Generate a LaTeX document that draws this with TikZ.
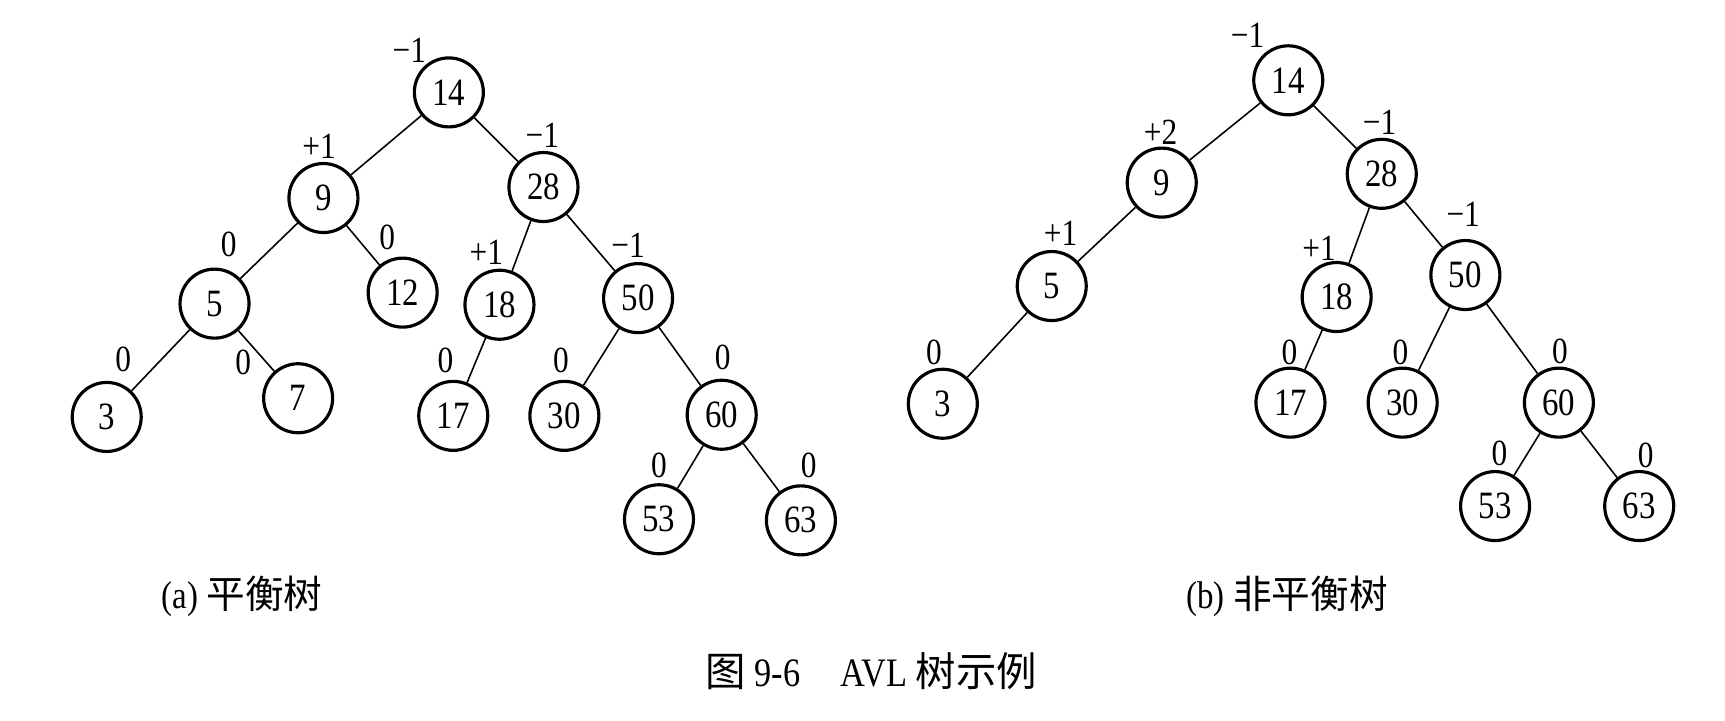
\documentclass[tikz,border=0pt]{standalone}
\usepackage{fontspec}
\setmainfont{Liberation Serif}[FakeStretch=0.85]
\newfontfamily\cjk{Noto Sans CJK SC}
\tikzset{
  key/.style={circle,draw,line width=0.9pt,minimum size=0.69cm,inner sep=0pt,font=\fontsize{11}{11}\selectfont},
  bal/.style={inner sep=0pt,font=\fontsize{10.5}{10.5}\selectfont},
  edge/.style={line width=0.45pt},
  subcap/.style={inner sep=0pt,font=\fontsize{11}{11}\selectfont}
}
\begin{document}
\begin{tikzpicture}[x=0.011cm,y=-0.011cm]
\useasboundingbox(0,0)rectangle(1568,655);
\node[key](a14)at(408,84){14};
\node[key](a9)at(294,180){9};
\node[key](a28)at(494,170){28};
\node[key](a5)at(195,276){5};
\node[key](a12)at(366,266){12};
\node[key](a18)at(454,277){18};
\node[key](a50)at(580,271){50};
\node[key](a3)at(97,379){3};
\node[key](a7)at(271,362){7};
\node[key](a17)at(412,378){17};
\node[key](a30)at(513,378){30};
\node[key](a60)at(656,377){60};
\node[key](a53)at(599,472){53};
\node[key](a63)at(728,473){63};
\draw[edge](a14)--(a9);\draw[edge](a14)--(a28);
\draw[edge](a9)--(a5);\draw[edge](a9)--(a12);
\draw[edge](a5)--(a3);\draw[edge](a5)--(a7);
\draw[edge](a28)--(a18);\draw[edge](a28)--(a50);
\draw[edge](a18)--(a17);
\draw[edge](a50)--(a30);\draw[edge](a50)--(a60);
\draw[edge](a60)--(a53);\draw[edge](a60)--(a63);
\node[bal](fa14)at(372,46){−1};
\node[bal](fa9)at(290,133){+1};
\node[bal](fa28)at(493,123){−1};
\node[bal](fa5)at(208,222){0};
\node[bal](fa12)at(352,216){0};
\node[bal](fa18)at(442,229){+1};
\node[bal](fa50)at(571,223){−1};
\node[bal](fa3)at(112,327){0};
\node[bal](fa7)at(221,329){0};
\node[bal](fa17)at(405,328){0};
\node[bal](fa30)at(510,328){0};
\node[bal](fa60)at(657,325){0};
\node[bal](fa53)at(599,423){0};
\node[bal](fa63)at(735,423){0};
\node[subcap](capa)at(220,542){(a) {\cjk 平衡树}};
\begin{scope}
\node[key](b14)at(1171,73){14};
\node[key](b9)at(1056,166){9};
\node[key](b28)at(1256,158){28};
\node[key](b5)at(956,260){5};
\node[key](b3)at(857,367){3};
\node[key](b18)at(1215,270){18};
\node[key](b50)at(1332,250){50};
\node[key](b17)at(1173,366){17};
\node[key](b30)at(1275,366){30};
\node[key](b60)at(1417,366){60};
\node[key](b53)at(1359,460){53};
\node[key](b63)at(1490,460){63};
\draw[edge](b14)--(b9);\draw[edge](b14)--(b28);
\draw[edge](b9)--(b5);\draw[edge](b5)--(b3);
\draw[edge](b28)--(b18);\draw[edge](b28)--(b50);
\draw[edge](b18)--(b17);
\draw[edge](b50)--(b30);\draw[edge](b50)--(b60);
\draw[edge](b60)--(b53);\draw[edge](b60)--(b63);
\node[bal](fb14)at(1134,32){−1};
\node[bal](fb9)at(1055,120){+2};
\node[bal](fb28)at(1254,111){−1};
\node[bal](fb5)at(964,212){+1};
\node[bal](fb3)at(849,320){0};
\node[bal](fb18)at(1199,226){+1};
\node[bal](fb50)at(1330,195){−1};
\node[bal](fb17)at(1172,320){0};
\node[bal](fb30)at(1273,320){0};
\node[bal](fb60)at(1418,319){0};
\node[bal](fb53)at(1363,412){0};
\node[bal](fb63)at(1496,414){0};
\node[subcap](capb)at(1170,542){(b) {\cjk 非平衡树}};
\end{scope}
\node[subcap,font=\fontsize{11.5}{11.5}\selectfont](title)at(792,610){{\cjk 图} 9-6\quad AVL {\cjk 树示例}};
\end{tikzpicture}
\end{document}
